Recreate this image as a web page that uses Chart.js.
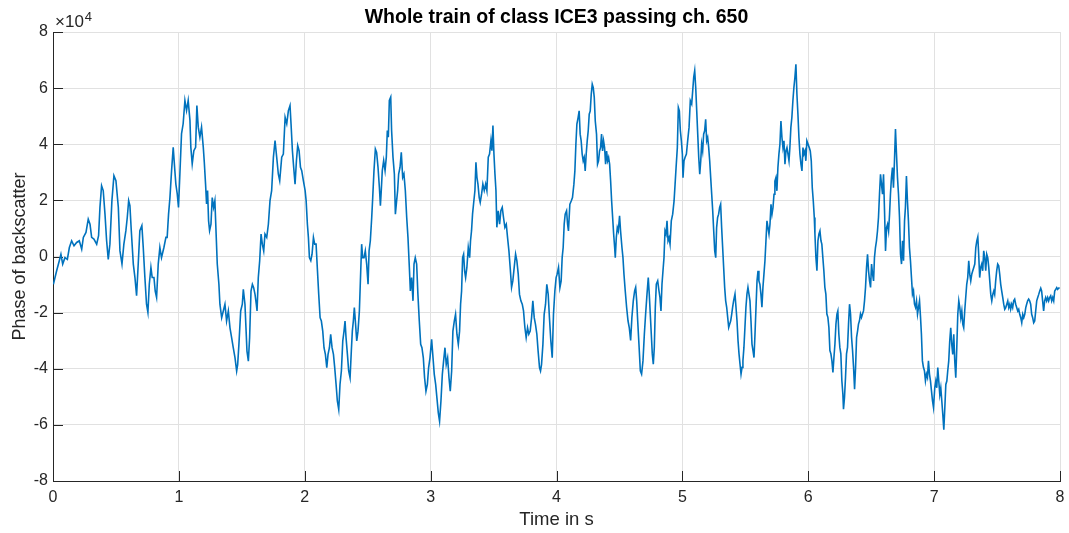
<!DOCTYPE html>
<html>
<head>
<meta charset="utf-8">
<title>Whole train of class ICE3 passing ch. 650</title>
<script src="https://cdn.jsdelivr.net/npm/chart.js@4/dist/chart.umd.min.js"></script>
<style>
  html, body { margin: 0; padding: 0; background: #ffffff; }
  canvas { display: block; }
</style>
</head>
<body>
<canvas id="chart" width="1069" height="533"></canvas>
<script>
// Sample times in seconds
const timeS = [
  // 0 - 1 s
  0.003,0.016,0.029,0.050,0.063,0.077,0.095,0.114,0.130,0.148,0.167,0.188,0.209,0.228,0.241,0.262,0.280,0.294,0.307,0.325,
  0.347,0.362,0.373,0.386,0.399,0.413,0.426,0.439,0.452,0.468,0.484,0.500,0.519,0.532,0.548,0.563,0.579,0.590,0.601,0.611,
  0.622,0.638,0.651,0.664,0.677,0.690,0.706,0.717,0.730,0.743,0.754,0.765,0.778,0.788,0.802,0.812,0.823,0.836,0.849,0.862,
  0.881,0.897,0.907,0.918,0.929,0.942,0.955,0.968,0.976,0.987,0.997,
  // 1 - 2 s
  1.008,1.021,1.034,1.048,1.061,1.074,1.088,1.095,1.106,1.119,1.133,1.143,1.154,1.167,1.180,1.194,
  1.202,1.212,1.220,1.228,1.236,1.244,1.255,1.265,1.276,1.286,1.297,1.305,1.318,1.326,1.340,1.353,
  1.366,1.379,1.393,1.406,1.419,1.432,1.446,1.459,1.467,1.477,1.491,1.504,1.512,1.525,1.533,1.541,
  1.552,1.562,1.573,1.584,1.594,1.605,1.615,1.621,1.631,1.642,1.653,1.663,1.674,1.684,1.698,1.711,
  1.724,1.737,1.751,1.764,1.777,1.790,1.801,1.817,1.830,1.844,1.857,1.870,1.883,1.891,1.902,1.912,
  1.923,1.934,1.944,1.955,1.966,1.976,1.989,
  // 2 - 3 s
  2.003,2.011,2.021,2.029,2.037,2.048,2.058,2.069,2.079,2.090,2.101,2.111,2.122,2.132,2.143,2.153,
  2.164,2.175,2.185,2.196,2.206,2.217,2.228,2.238,2.249,2.259,2.270,2.280,2.291,2.302,2.312,2.320,
  2.328,2.339,2.349,2.360,2.370,2.378,2.386,2.394,2.402,2.413,2.423,2.434,2.442,2.452,2.460,2.471,
  2.481,2.492,2.503,2.511,2.521,2.532,2.540,2.550,2.561,2.571,2.582,2.593,2.601,2.608,2.616,2.627,
  2.638,2.648,2.656,2.664,2.672,2.683,2.690,2.701,2.712,2.720,2.730,2.738,2.746,2.757,2.767,2.778,
  2.788,2.799,2.810,2.820,2.831,2.839,2.849,2.860,2.868,2.878,2.889,2.899,2.910,2.921,2.931,2.942,
  2.952,2.963,2.974,2.984,2.995,
  // 3 - 4 s
  3.008,3.019,3.029,3.040,3.050,3.061,3.071,3.082,3.093,3.103,3.114,3.124,3.135,3.146,3.156,3.167,
  3.177,3.188,3.198,3.209,3.220,3.230,3.238,3.246,3.254,3.262,3.270,3.278,3.288,3.299,3.310,3.317,
  3.325,3.333,3.341,3.352,3.360,3.368,3.376,3.386,3.394,3.405,3.415,3.426,3.437,3.447,3.458,3.468,
  3.479,3.487,3.495,3.503,3.511,3.519,3.526,3.537,3.548,3.558,3.569,3.579,3.590,3.601,3.611,3.622,
  3.632,3.643,3.653,3.664,3.675,3.685,3.696,3.706,3.717,3.728,3.738,3.749,3.759,3.770,3.780,3.791,
  3.802,3.812,3.823,3.833,3.844,3.854,3.865,3.873,3.881,3.892,3.902,3.913,3.923,3.934,3.944,3.955,
  3.966,3.976,3.987,3.997,
  // 4 - 5 s
  4.005,4.016,4.027,4.037,4.045,4.053,4.061,4.069,4.080,4.088,4.095,4.106,4.117,4.127,4.138,4.146,
  4.154,4.162,4.172,4.180,4.188,4.196,4.204,4.212,4.220,4.228,4.236,4.244,4.252,4.260,4.268,4.276,
  4.284,4.292,4.300,4.308,4.318,4.326,4.334,4.342,4.350,4.358,4.366,4.374,4.382,4.390,4.398,4.406,
  4.414,4.422,4.430,4.438,4.446,4.454,4.462,4.467,4.475,4.483,4.491,4.501,4.509,4.520,4.528,4.536,
  4.546,4.557,4.568,4.578,4.589,4.599,4.610,4.621,4.629,4.637,4.645,4.655,4.666,4.676,4.687,4.698,
  4.708,4.719,4.729,4.737,4.745,4.753,4.761,4.769,4.777,4.785,4.793,4.804,4.814,4.822,4.830,4.838,
  4.846,4.854,4.862,4.870,4.878,4.886,4.894,4.902,4.912,4.923,4.934,4.942,4.950,4.960,4.968,4.976,
  4.984,4.992,5.000,
  // 5 - 6 s
  5.005,5.013,5.021,5.032,5.042,5.053,5.063,5.074,5.082,5.090,5.098,5.106,5.114,5.122,5.130,5.138,
  5.146,5.153,5.161,5.169,5.177,5.185,5.193,5.201,5.209,5.217,5.225,5.233,5.241,5.249,5.257,5.265,
  5.272,5.280,5.288,5.296,5.304,5.312,5.320,5.328,5.336,5.344,5.352,5.360,5.368,5.376,5.384,5.392,
  5.399,5.407,5.418,5.426,5.434,5.442,5.450,5.458,5.466,5.474,5.481,5.489,5.497,5.505,5.513,5.521,
  5.529,5.537,5.545,5.553,5.561,5.569,5.577,5.585,5.593,5.601,5.608,5.616,5.624,5.632,5.640,5.648,
  5.656,5.664,5.672,5.680,5.688,5.696,5.704,5.712,5.720,5.728,5.735,5.743,5.751,5.759,5.767,5.775,
  5.783,5.791,5.799,5.807,5.815,5.823,5.831,5.839,5.847,5.854,5.862,5.870,5.878,5.886,5.894,5.902,
  5.910,5.918,5.926,5.934,5.942,5.950,5.958,5.966,5.974,5.981,5.989,
  // 6 - 7 s
  6.008,6.016,6.024,6.032,6.040,6.048,6.053,6.061,6.069,6.077,6.085,6.093,6.101,6.108,6.116,6.124,
  6.132,6.140,6.148,6.156,6.164,6.172,6.180,6.188,6.196,6.204,6.212,6.220,6.228,6.235,6.243,6.251,
  6.259,6.267,6.275,6.280,6.288,6.296,6.304,6.312,6.320,6.328,6.336,6.344,6.352,6.360,6.368,6.376,
  6.384,6.392,6.399,6.407,6.415,6.423,6.431,6.439,6.447,6.455,6.463,6.471,6.479,6.487,6.495,6.503,
  6.511,6.519,6.526,6.534,6.542,6.550,6.558,6.566,6.574,6.582,6.590,6.598,6.606,6.614,6.622,6.630,
  6.638,6.646,6.653,6.661,6.669,6.677,6.685,6.693,6.701,6.709,6.717,6.725,6.733,6.741,6.749,6.757,
  6.765,6.772,6.780,6.788,6.796,6.804,6.812,6.820,6.828,6.836,6.844,6.852,6.860,6.868,6.876,6.884,
  6.892,6.899,6.907,6.915,6.923,6.931,6.939,6.947,6.955,6.963,6.971,6.979,6.987,6.995,
  // 7 - 8 s
  7.005,7.013,7.021,7.029,7.037,7.045,7.053,7.061,7.069,7.077,7.085,7.093,7.101,7.108,7.116,7.124,
  7.132,7.140,7.148,7.156,7.164,7.172,7.180,7.188,7.196,7.204,7.212,7.220,7.228,7.235,7.243,7.251,
  7.259,7.267,7.275,7.283,7.291,7.299,7.307,7.315,7.323,7.331,7.339,7.347,7.354,7.362,7.370,7.378,
  7.386,7.394,7.402,7.410,7.418,7.426,7.434,7.442,7.450,7.458,7.466,7.474,7.481,7.489,7.497,7.505,
  7.513,7.521,7.529,7.537,7.545,7.553,7.561,7.569,7.577,7.585,7.593,7.601,7.608,7.616,7.624,7.632,
  7.640,7.648,7.656,7.664,7.672,7.680,7.688,7.696,7.704,7.712,7.720,7.728,7.735,7.743,7.751,7.759,
  7.767,7.775,7.783,7.791,7.799,7.807,7.815,7.823,7.831,7.839,7.847,7.854,7.862,7.870,7.878,7.886,
  7.894,7.902,7.910,7.918,7.926,7.934,7.942,7.950,7.958,7.966,7.974,7.981,7.989,7.997
];

// Backscatter phase, in units of 10^4
const phaseE4 = [
  // 0 - 1 s
  -0.99,-0.75,-0.51,-0.15,0.08,-0.27,-0.04,-0.10,0.32,0.56,0.38,0.50,0.56,0.26,0.68,0.86,1.33,1.15,0.68,0.62,
  0.44,0.74,1.75,2.52,2.35,1.51,0.56,-0.10,0.44,1.99,2.88,2.70,1.75,0.20,-0.27,0.44,0.92,1.39,1.99,1.81,
  0.92,-0.27,-0.75,-1.40,-0.27,0.92,1.10,0.32,-0.75,-1.70,-1.99,-0.99,-0.39,-0.75,-0.75,-1.23,-1.46,-0.27,0.32,-0.04,
  0.32,0.68,0.68,1.51,2.10,3.06,3.89,3.06,2.58,2.23,1.75,
  // 1 - 2 s
  2.94,4.37,4.73,5.56,5.20,5.56,4.85,3.89,3.30,3.77,3.89,5.38,4.61,4.25,4.61,3.89,
  3.36,2.58,1.87,2.35,1.27,0.92,1.15,2.10,1.75,1.99,0.68,-0.27,-0.99,-1.70,-2.18,-1.94,
  -1.70,-2.30,-1.94,-2.54,-2.89,-3.25,-3.61,-4.08,-3.85,-3.13,-1.94,-1.70,-1.17,-1.70,-2.54,-3.37,
  -3.73,-2.89,-1.23,-0.99,-1.11,-1.35,-1.70,-1.94,-0.75,-0.15,0.80,0.44,0.20,0.80,0.68,1.15,
  1.99,2.35,3.54,4.13,3.54,2.94,2.70,3.54,3.65,4.96,4.73,5.20,5.38,4.73,3.77,3.18,
  2.58,3.42,3.95,3.77,3.18,3.06,2.70,
  // 2 - 3 s
  2.35,1.99,1.15,0.68,-0.04,-0.15,0.08,0.68,0.44,0.44,-0.51,-1.35,-2.18,-2.30,-2.66,-3.25,
  -3.49,-3.96,-3.49,-3.25,-2.77,-3.25,-3.49,-3.96,-4.56,-5.15,-5.45,-4.56,-4.08,-3.01,-2.66,-2.30,
  -2.89,-3.49,-4.08,-4.32,-3.37,-2.66,-2.30,-1.82,-2.30,-3.01,-2.66,-1.94,-0.87,0.44,-0.04,-0.04,
  0.20,-0.27,-0.99,0.20,0.56,1.39,2.10,3.06,3.83,3.71,3.18,2.46,1.81,2.35,3.06,3.42,
  3.06,3.54,4.49,4.25,5.56,5.68,4.49,3.54,2.94,1.51,1.99,2.35,2.94,3.18,3.71,2.82,
  2.94,2.35,1.39,0.68,-0.39,-1.23,-0.75,-1.58,-0.27,-0.04,-0.27,-1.35,-2.30,-3.13,-3.25,-3.61,
  -4.32,-4.80,-4.56,-3.96,-3.61,
  // 3 - 4 s
  -2.95,-3.61,-4.20,-4.56,-5.04,-5.57,-5.87,-5.15,-4.20,-3.73,-3.25,-3.85,-3.61,-4.32,-4.80,-4.08,
  -2.66,-2.30,-2.06,-2.77,-3.13,-2.66,-1.70,-1.23,-0.04,0.08,-0.51,-0.75,-0.39,0.32,-0.04,0.56,
  0.92,1.51,1.87,2.35,3.36,2.82,2.58,2.10,1.93,2.23,2.58,2.35,2.58,2.35,3.54,3.65,
  4.13,3.77,4.67,3.65,2.94,2.35,1.04,1.63,1.15,1.63,1.75,1.39,1.04,1.15,0.68,0.20,
  -0.39,-1.10,-0.87,-0.39,0.08,-0.15,-0.63,-1.35,-1.58,-1.70,-1.94,-2.54,-2.89,-2.54,-2.77,-2.66,
  -2.18,-1.58,-2.18,-2.42,-2.77,-3.37,-3.96,-4.08,-3.85,-3.13,-2.06,-1.70,-0.99,-1.35,-2.18,-3.01,
  -3.61,-2.06,-1.23,-0.75,
  // 4 - 5 s
  -0.63,-0.39,-1.11,-0.87,-0.04,0.32,1.15,1.51,1.63,1.15,0.91,1.86,1.98,2.10,2.57,3.05,
  4.00,4.72,4.96,5.19,4.36,4.12,3.65,3.41,3.53,3.05,3.65,4.12,4.48,5.07,5.19,5.78,
  6.14,6.02,5.67,4.83,4.36,3.29,3.41,3.76,3.88,4.36,3.76,4.12,3.88,3.29,3.76,3.41,
  3.53,3.29,2.69,1.98,1.39,0.80,0.32,-0.04,0.67,1.03,0.91,1.45,0.91,0.32,-0.04,-0.63,
  -1.22,-1.81,-2.29,-2.53,-2.99,-2.17,-1.58,-1.22,-1.10,-1.58,-2.29,-3.12,-4.07,-4.19,-3.72,-2.76,
  -2.05,-1.34,-0.75,-1.34,-2.05,-2.76,-3.47,-3.84,-3.24,-1.81,-0.99,-0.87,-1.22,-1.46,-1.94,-0.99,
  -0.51,-0.04,0.91,0.80,1.27,0.56,0.67,0.44,1.27,1.51,1.98,2.57,3.17,3.88,5.31,5.19,
  4.48,4.12,3.65,
  // 5 - 6 s
  2.81,3.41,3.53,3.65,4.12,4.60,5.55,5.43,5.90,6.38,6.62,6.02,5.19,4.36,3.53,2.93,
  3.41,4.00,3.76,4.36,4.48,4.89,4.12,4.24,3.88,3.41,2.81,2.22,1.63,0.91,0.20,-0.04,
  1.03,1.39,1.51,1.75,1.86,1.03,0.32,-0.39,-1.10,-1.58,-1.81,-2.17,-2.53,-2.41,-2.29,-2.05,
  -1.81,-1.58,-1.34,-1.81,-2.29,-2.99,-3.47,-3.84,-4.19,-3.95,-3.72,-3.24,-2.53,-1.81,-1.34,-1.10,
  -1.34,-1.58,-2.29,-3.12,-3.35,-3.60,-2.76,-1.81,-0.87,-0.51,-0.87,-0.99,-1.34,-1.81,-1.10,-0.63,
  -0.15,0.56,1.27,1.03,0.80,1.15,1.86,1.51,1.75,2.22,2.69,2.81,2.34,3.17,3.65,4.00,
  4.83,4.24,3.88,4.12,3.29,3.76,3.88,3.65,3.41,3.88,4.60,4.96,5.55,6.02,6.38,6.85,
  5.78,5.07,4.24,3.65,3.29,3.05,3.88,3.65,3.76,3.41,4.12,
  // 6 - 7 s
  3.88,3.76,3.41,2.45,1.98,1.39,0.80,-0.04,-0.51,0.56,0.80,0.91,0.56,0.44,-0.04,-0.51,
  -1.10,-1.34,-2.05,-2.17,-2.53,-3.35,-3.47,-3.72,-4.13,-3.60,-3.12,-2.41,-2.05,-1.94,-2.76,-3.24,
  -3.47,-4.43,-4.90,-5.44,-5.02,-4.31,-3.47,-3.24,-2.41,-1.70,-2.05,-2.88,-3.35,-3.95,-4.73,-3.95,
  -2.88,-2.65,-2.41,-2.29,-2.05,-2.17,-2.05,-1.94,-1.58,-1.10,-0.39,0.08,-0.51,-0.87,-1.10,-0.27,
  -0.63,-0.87,-0.04,0.32,0.56,0.91,1.39,2.22,2.93,2.57,2.22,2.93,1.63,0.20,1.03,1.15,
  0.91,1.51,2.22,2.81,3.17,2.45,3.41,4.54,3.65,2.81,2.22,1.39,0.08,-0.27,0.56,-0.15,
  1.27,1.75,2.87,1.98,1.27,0.32,-0.15,-0.75,-1.34,-1.22,-1.70,-1.81,-1.58,-2.05,-1.81,-1.58,
  -2.17,-2.76,-3.72,-3.95,-4.07,-4.43,-4.19,-4.31,-3.72,-4.19,-4.43,-4.79,-5.14,-5.38,
  // 7 - 8 s
  -4.68,-4.44,-4.68,-3.96,-4.44,-4.92,-4.68,-5.15,-5.63,-6.17,-5.39,-4.56,-4.44,-4.08,-3.73,-3.01,
  -2.54,-3.13,-3.49,-2.77,-3.73,-4.32,-3.25,-2.06,-1.58,-1.82,-2.18,-1.94,-2.42,-2.54,-1.94,-1.46,
  -0.99,-0.75,-0.15,-0.63,-0.87,-0.63,-0.51,-0.39,-0.27,0.32,0.56,0.70,0.08,-0.75,-0.39,-0.27,
  -0.51,0.20,-0.04,-0.51,0.08,-0.04,-0.39,-0.87,-1.35,-1.58,-1.35,-1.23,-1.35,-0.87,-0.51,-0.27,
  -0.33,-0.63,-0.99,-1.23,-1.46,-1.70,-1.88,-1.82,-1.70,-1.58,-1.82,-1.70,-1.88,-1.70,-1.82,-1.58,
  -1.52,-1.70,-1.82,-1.94,-1.88,-2.06,-2.18,-2.36,-2.06,-2.18,-2.06,-1.82,-1.70,-1.58,-1.52,-1.58,
  -1.70,-2.06,-2.18,-2.36,-2.30,-1.94,-1.58,-1.46,-1.35,-1.23,-1.13,-1.23,-1.58,-1.94,-1.58,-1.46,
  -1.58,-1.46,-1.58,-1.46,-1.40,-1.58,-1.46,-1.58,-1.23,-1.17,-1.11,-1.17,-1.13,-1.11
];

// Power of ten shared by the y values and shown above the axis
const PHASE_EXP = 4;

// Tick positions
const xTicks = [0, 1, 2, 3, 4, 5, 6, 7, 8];
const yTicksE4 = [-8, -6, -4, -2, 0, 2, 4, 6, 8];

const TITLE = 'Whole train of class ICE3 passing ch. 650';
const X_LABEL = 'Time in s';
const Y_LABEL = 'Phase of backscatter';

const AXIS_COLOR = '#262626';
const GRID_COLOR = '#e1e1e1';
const LINE_COLOR = '#0072BD';
const FONT = '"Liberation Sans", Arial, Helvetica, sans-serif';

const scale = Math.pow(10, PHASE_EXP);
const n = Math.min(timeS.length, phaseE4.length);
const points = [];
for (let i = 0; i < n; i++) points.push({ x: timeS[i], y: phaseE4[i] * scale });

Chart.defaults.font.family = FONT;
Chart.defaults.color = AXIS_COLOR;

// Inward tick marks, title centred over the axes, and the axis exponent label
const axisDecor = {
  id: 'axisDecor',
  beforeDatasetsDraw(chart) {
    const { ctx, chartArea: a, scales: { x, y } } = chart;
    ctx.save();
    ctx.strokeStyle = AXIS_COLOR;
    ctx.lineWidth = 1;
    ctx.beginPath();
    for (const t of xTicks) {
      const px = Math.round(x.getPixelForValue(t)) + 0.5;
      ctx.moveTo(px, a.bottom);
      ctx.lineTo(px, a.bottom - 10);
    }
    for (const t of yTicksE4) {
      const py = Math.round(y.getPixelForValue(t * scale)) + 0.5;
      ctx.moveTo(a.left, py);
      ctx.lineTo(a.left + 10, py);
    }
    ctx.stroke();
    ctx.restore();
  },
  afterDraw(chart) {
    const { ctx, chartArea: a } = chart;
    ctx.save();
    // title
    ctx.fillStyle = '#000000';
    ctx.textAlign = 'center';
    ctx.textBaseline = 'alphabetic';
    ctx.font = 'bold 19.5px ' + FONT;
    ctx.fillText(TITLE, (a.left + a.right) / 2, a.top - 9);
    // exponent
    ctx.fillStyle = AXIS_COLOR;
    ctx.textAlign = 'left';
    ctx.font = '17px ' + FONT;
    const base = '\u00d710';
    ctx.fillText(base, a.left + 2, a.top - 5);
    const w = ctx.measureText(base).width;
    ctx.font = '13px ' + FONT;
    ctx.fillText(String(PHASE_EXP), a.left + 2 + w + 1, a.top - 11);
    ctx.restore();
  }
};

new Chart(document.getElementById('chart'), {
  type: 'line',
  data: {
    datasets: [{
      data: points,
      borderColor: LINE_COLOR,
      borderWidth: 1.6,
      pointRadius: 0,
      tension: 0,
      fill: false
    }]
  },
  options: {
    responsive: false,
    animation: false,
    devicePixelRatio: 1,
    parsing: false,
    layout: { padding: { left: 0, right: 9, top: 32, bottom: 0 } },
    plugins: {
      legend: { display: false },
      tooltip: { enabled: false },
      title: { display: false }
    },
    scales: {
      x: {
        type: 'linear',
        min: 0,
        max: 8,
        ticks: {
          stepSize: 1,
          color: AXIS_COLOR,
          font: { size: 16 },
          padding: 7,
          maxRotation: 0,
          autoSkip: false
        },
        grid: { color: GRID_COLOR, drawTicks: false },
        border: { color: AXIS_COLOR, width: 1 },
        title: {
          display: true,
          text: X_LABEL,
          color: AXIS_COLOR,
          font: { size: 18.5 },
          padding: { top: 0, bottom: 1.5 }
        },
        afterFit(s) {
          s.height = 52;
          s.paddingLeft = 0;
          s.paddingRight = 0;
        }
      },
      y: {
        type: 'linear',
        min: -8 * scale,
        max: 8 * scale,
        ticks: {
          stepSize: 2 * scale,
          color: AXIS_COLOR,
          font: { size: 16 },
          padding: 5,
          callback: v => String(Math.round(v / scale))
        },
        grid: { color: GRID_COLOR, drawTicks: false },
        border: { color: AXIS_COLOR, width: 1 },
        title: {
          display: true,
          text: Y_LABEL,
          color: AXIS_COLOR,
          font: { size: 18 },
          padding: { top: 9, bottom: 0 }
        },
        afterFit(s) {
          s.width = 53;
          s.paddingTop = 0;
          s.paddingBottom = 0;
        }
      }
    }
  },
  plugins: [axisDecor]
});
</script>
</body>
</html>
